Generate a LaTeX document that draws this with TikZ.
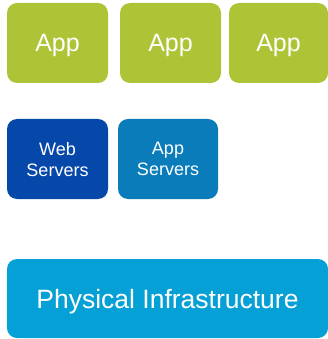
\documentclass[tikz,border=0pt]{standalone}
\usepackage{fontspec}
\setmainfont{Liberation Sans}
\definecolor{appgreen}{RGB}{174,196,54}
\definecolor{webblue}{RGB}{5,72,170}
\definecolor{appblue}{RGB}{10,124,186}
\definecolor{infrablue}{RGB}{4,160,214}
\tikzstyle{tile}=[rounded corners=10pt, text=white, align=center, inner sep=0pt, text depth=0pt]
\tikzset{apptile/.style={tile, fill=appgreen, minimum height=80pt, font=\fontsize{25}{28}\selectfont}}
\tikzset{servertile/.style={tile, minimum height=80pt, font=\fontsize{18}{21}\selectfont}}

\begin{document}
\begin{tikzpicture}[x=1pt,y=-1pt]
  \useasboundingbox (0,0) rectangle (327,339);
  %% Apps
  \node[apptile, minimum width=101pt] (App1) at (57.5,43) {App};
  \node[apptile, minimum width=101pt] (App2) at (170.5,43) {App};
  \node[apptile, minimum width=99pt] (App3) at (278.5,43) {App};

  %% Servers
  \node[servertile, fill=webblue, minimum width=101pt] (WebSrv) at (57.5,159) {Web\\Servers};
  \node[servertile, fill=appblue, minimum width=100pt] (AppSrv) at (168,159) {App\\Servers};

  %% Infrastructure
  \node[tile, fill=infrablue, minimum width=321pt, minimum height=79pt, font=\fontsize{26.5}{30}\selectfont] (Infra) at (167.5,298.5) {Physical Infrastructure};
\end{tikzpicture}
\end{document}
